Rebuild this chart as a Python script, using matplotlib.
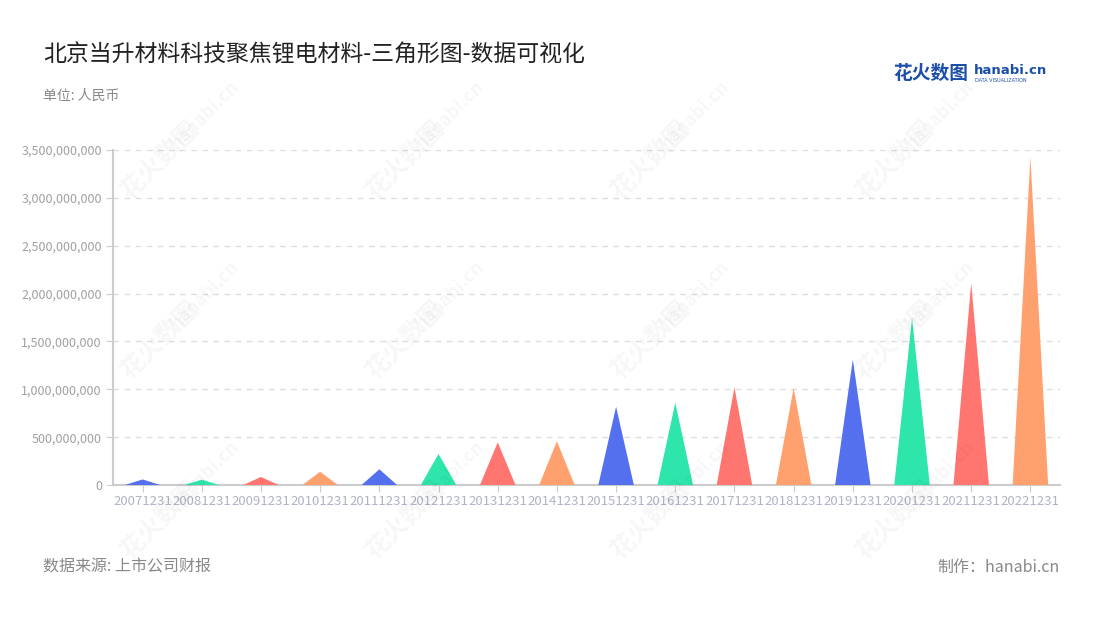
import numpy as np
import matplotlib.pyplot as plt
from matplotlib.ticker import FuncFormatter

plt.rcParams['font.family'] = ['Noto Sans CJK SC', 'DejaVu Sans']

# data
periods = ['20071231', '20081231', '20091231', '20101231', '20111231', '20121231',
           '20131231', '20141231', '20151231', '20161231', '20171231', '20181231',
           '20191231', '20201231', '20211231', '20221231']
values = [58e6, 55e6, 84e6, 139e6, 164e6, 324e6, 446e6, 457e6,
          818e6, 860e6, 1020e6, 1014e6, 1312e6, 1745e6, 2110e6, 3427e6]
palette = ['#5470ee', '#2ee6ab', '#ff7671', '#ffa16f']

fig = plt.figure(figsize=(11, 6.2), dpi=100)
ax = fig.add_axes([113/1100, 135/620, 947/1100, 335/620])

# triangles
half = 0.3
for i, v in enumerate(values):
    ax.fill([i - half, i, i + half], [0, v, 0], color=palette[i % 4], lw=0, zorder=3)

ax.set_xlim(-0.5, len(periods) - 0.5)
ax.set_ylim(0, 3.5e9)
ax.set_xticks(range(len(periods)))
ax.set_xticklabels(periods)
ax.set_yticks(np.arange(0, 3.51e9, 5e8))
ax.yaxis.set_major_formatter(FuncFormatter(lambda v, p: f'{int(v):,}'))

for s in ['top', 'right']:
    ax.spines[s].set_visible(False)
for s in ['left', 'bottom']:
    ax.spines[s].set_color('#cccccc')
    ax.spines[s].set_linewidth(1.5)
ax.tick_params(axis='y', colors='#cccccc', labelcolor='#a0a0a0', labelsize=9, length=5, pad=3)
ax.tick_params(axis='x', colors='#cccccc', labelcolor='#b0b3c2', labelsize=9.5, length=5, pad=2)
ax.grid(axis='y', color='#dddddd', linestyle=(0, (4, 4)), linewidth=1, zorder=0)

# watermarks
for wx in [160, 405, 650, 895]:
    for wy in [160, 340, 520]:
        fig.text(wx/1100, 1 - wy/620, '花火数图', fontsize=18, color='#000000', alpha=0.035,
                 rotation=45, ha='center', va='center', fontweight='bold')
        fig.text((wx + 45)/1100, 1 - (wy - 45)/620, 'hanabi.cn', fontsize=13, color='#000000',
                 alpha=0.035, rotation=45, ha='center', va='center', fontweight='bold')

# titles
fig.text(43/1100, 1 - 55/620, '北京当升材料科技聚焦锂电材料-三角形图-数据可视化',
         fontsize=16.5, color='#222222', va='center')
fig.text(43/1100, 1 - 96/620, '单位: 人民币', fontsize=10, color='#888888', va='center')
fig.text(43/1100, 1 - 567/620, '数据来源: 上市公司财报', fontsize=11.5, color='#888888', va='center')
fig.text(1060/1100, 1 - 567/620, '制作：hanabi.cn', fontsize=11.5, color='#888888',
         va='center', ha='right')

# logo
fig.text(893/1100, 1 - 73/620, '花火数图', fontsize=13.5, color='#1b4fa8', fontweight='bold', va='center')
fig.text(974/1100, 1 - 70/620, 'hanabi.cn', fontsize=9.5, color='#1b4fa8', fontweight='bold',
         va='center', family=['DejaVu Sans'])
fig.text(975/1100, 1 - 80/620, 'DATA VISUALIZATION', fontsize=3.5, color='#1b4fa8', va='center',
         family=['DejaVu Sans'])

fig.savefig('out.png', dpi=100)
